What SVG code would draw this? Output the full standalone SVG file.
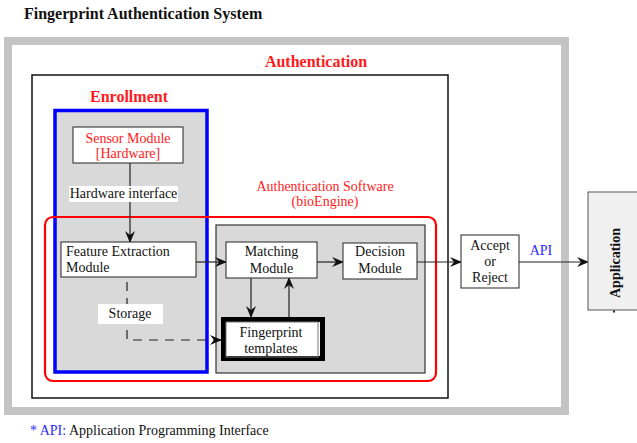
<svg xmlns="http://www.w3.org/2000/svg" width="637" height="443" viewBox="0 0 637 443" font-family="'Liberation Serif', 'Times New Roman', 'DejaVu Serif', serif">
  <style>
    text { font-family: 'Liberation Serif', 'Times New Roman', 'DejaVu Serif', serif; font-size: 14px; fill: #111; }
    .title { font-weight: bold; font-size: 16px; }
    .red { fill: #ff1a1a; }
    .blue { fill: #2a2aff; }
    .box { fill: #ffffff; stroke: #222; stroke-width: 1; }
    .conn { fill: none; stroke: #222; stroke-width: 1.2; }
    .dash { fill: none; stroke: #222; stroke-width: 1.2; stroke-dasharray: 9 7; }
    .mid { text-anchor: middle; }
  </style>
  <defs>
    <marker id="arrow" viewBox="0 0 12 10" refX="11" refY="5" markerWidth="12" markerHeight="10" markerUnits="userSpaceOnUse" orient="auto">
      <path d="M0,0 L12,5 L0,10 L4,5 z" fill="#111"/>
    </marker>
  </defs>

  <!-- heading -->
  <text class="title" x="24" y="19">Fingerprint Authentication System</text>

  <!-- system frame -->
  <g id="system">
    <rect x="8" y="41" width="557" height="370" fill="#ffffff" stroke="#c4c4c4" stroke-width="8"/>
  </g>

  <!-- authentication boundary -->
  <g id="authentication">
    <rect x="32" y="75" width="416" height="323" fill="#ffffff" stroke="#111" stroke-width="1.5"/>
    <text class="title red mid" x="316" y="67">Authentication</text>
  </g>

  <!-- enrollment group -->
  <g id="enrollment">
    <rect x="55" y="110.5" width="152" height="261.5" fill="#d9d9d9" stroke="#0000ff" stroke-width="3.5"/>
    <text class="title red mid" x="129" y="102">Enrollment</text>
  </g>

  <!-- matching area -->
  <g id="matching-area">
    <rect x="216" y="225" width="209" height="148" fill="#d9d9d9" stroke="#333" stroke-width="1.2"/>
  </g>

  <!-- authentication software outline -->
  <g id="auth-software">
    <rect x="45" y="217" width="391" height="164" rx="8" ry="8" fill="none" stroke="#ff0000" stroke-width="2.2"/>
    <text class="red mid" x="325" y="191">Authentication Software</text>
    <text class="red mid" x="325" y="206">(bioEngine)</text>
  </g>

  <!-- connectors -->
  <g id="connectors">
    <line class="conn" x1="130" y1="163" x2="130" y2="242" marker-end="url(#arrow)"/>
    <line class="conn" x1="196" y1="262" x2="226" y2="262" marker-end="url(#arrow)"/>
    <line class="conn" x1="317" y1="262" x2="343" y2="262" marker-end="url(#arrow)"/>
    <line class="conn" x1="417" y1="262" x2="461" y2="262" marker-end="url(#arrow)"/>
    <line class="conn" x1="519" y1="262" x2="588" y2="262" marker-end="url(#arrow)"/>
    <line class="conn" x1="251" y1="278" x2="251" y2="317" marker-end="url(#arrow)"/>
    <line class="conn" x1="289" y1="322" x2="289" y2="278" marker-end="url(#arrow)"/>
    <path class="dash" d="M127,282 L127,340 L221,340" marker-end="url(#arrow)"/>
  </g>

  <!-- connector labels -->
  <g id="label-hardware">
    <rect x="69" y="186" width="109" height="16" fill="#ffffff"/>
    <text class="mid" x="123.5" y="198">Hardware interface</text>
  </g>
  <g id="label-storage">
    <rect x="98" y="304" width="65" height="20" fill="#ffffff"/>
    <text class="mid" x="130" y="318">Storage</text>
  </g>
  <text class="blue mid" x="541" y="255">API</text>

  <!-- nodes -->
  <g id="sensor">
    <rect class="box" x="73" y="127" width="110" height="36"/>
    <text class="red mid" x="128" y="143">Sensor Module</text>
    <text class="red mid" x="128" y="158">[Hardware]</text>
  </g>

  <g id="feature-extraction">
    <rect class="box" x="61" y="242" width="135" height="35"/>
    <text x="66" y="256">Feature Extraction</text>
    <text x="66" y="272">Module</text>
  </g>

  <g id="matching">
    <rect class="box" x="226" y="242" width="91" height="36"/>
    <text class="mid" x="271.5" y="256">Matching</text>
    <text class="mid" x="271.5" y="273">Module</text>
  </g>

  <g id="decision">
    <rect class="box" x="343" y="243" width="74" height="36"/>
    <text class="mid" x="380" y="256">Decision</text>
    <text class="mid" x="380" y="273">Module</text>
  </g>

  <g id="templates">
    <rect x="223.5" y="319.5" width="99" height="39" fill="#ffffff" stroke="#000" stroke-width="5"/>
    <rect x="226" y="322" width="92" height="35" fill="none" stroke="#777" stroke-width="1"/>
    <text class="mid" x="271" y="337">Fingerprint</text>
    <text class="mid" x="271" y="353">templates</text>
  </g>

  <g id="accept-reject">
    <rect class="box" x="461" y="235" width="58" height="53"/>
    <text class="mid" x="490" y="250">Accept</text>
    <text class="mid" x="490" y="266">or</text>
    <text class="mid" x="490" y="282">Reject</text>
  </g>

  <g id="application">
    <rect x="588" y="192" width="60" height="118" fill="#f0f0f0" stroke="#555" stroke-width="1"/>
    <text class="mid" x="0" y="0" font-weight="bold" transform="translate(620,263) rotate(-90)">Application</text>
    <rect x="613" y="310.5" width="2" height="2" fill="#222"/>
  </g>

  <!-- footnote -->
  <text x="30" y="435"><tspan class="blue">* API:</tspan> Application Programming Interface</text>
</svg>
